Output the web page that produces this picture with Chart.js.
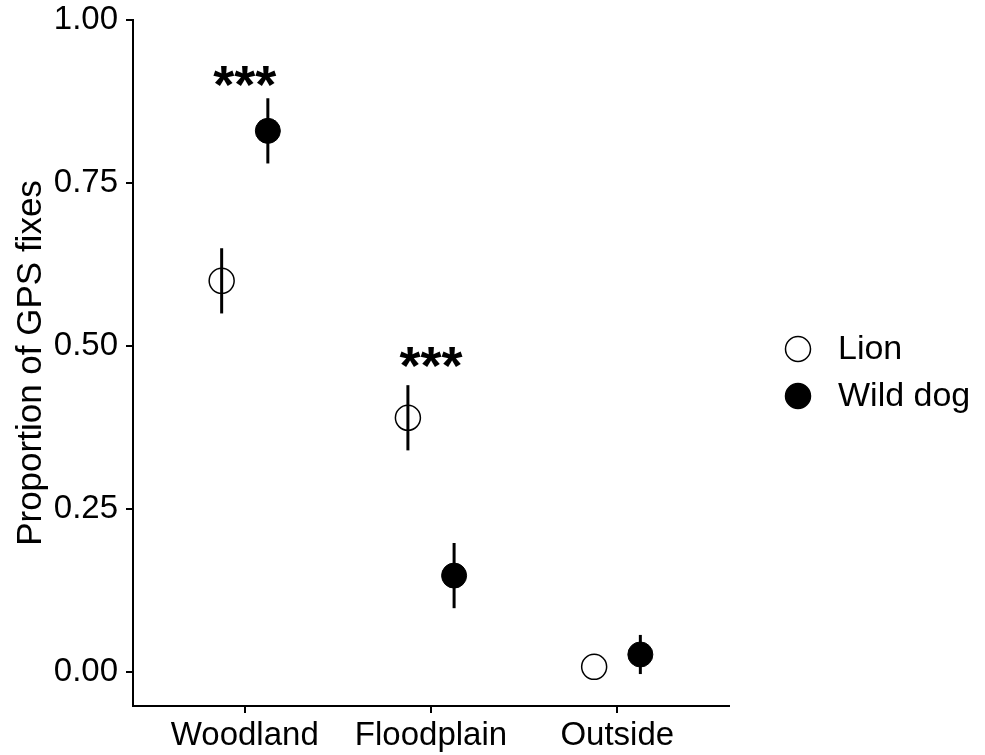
<!DOCTYPE html>
<html>
<head>
<meta charset="utf-8">
<script src="https://cdn.jsdelivr.net/npm/chart.js@4.4.1/dist/chart.umd.min.js"></script>
<style>
  html, body { margin: 0; padding: 0; background: #fff; }
  #wrap { width: 985px; height: 755px; }
</style>
</head>
<body>
<div id="wrap"><canvas id="chartGps"></canvas></div>
<script>
// data
const categorias = ["Woodland", "Floodplain", "Outside"];
const lionMedia = [0.60, 0.39, 0.008];
const lionError = [0.05, 0.05, 0];
const perroMedia = [0.83, 0.148, 0.027];
const perroError = [0.05, 0.05, 0.03];
const ticksY = [0, 0.25, 0.5, 0.75, 1];
const signif = ["***", "***", ""];
const signifY = [0.913, 0.483, null];

const DODGE = 0.124;
const FUENTE = "'Liberation Sans', Arial, sans-serif";

function puntos(medias, lado) {
  return medias.map((m, i) => ({ x: i + 1 + lado * DODGE, y: m }));
}

const barrasError = {
  id: "barrasError",
  beforeDatasetsDraw(chart) {
    const { ctx, scales: { x, y } } = chart;
    const series = [[lionMedia, lionError, -1], [perroMedia, perroError, 1]];
    ctx.save();
    ctx.strokeStyle = "#000";
    ctx.lineWidth = 3;
    series.forEach(([med, err, lado]) => {
      med.forEach((m, i) => {
        if (!err[i]) return;
        const px = x.getPixelForValue(i + 1 + lado * DODGE);
        ctx.beginPath();
        ctx.moveTo(px, y.getPixelForValue(m - err[i]));
        ctx.lineTo(px, y.getPixelForValue(m + err[i]));
        ctx.stroke();
      });
    });
    ctx.restore();
  }
};

const asteriscos = {
  id: "asteriscos",
  afterDatasetsDraw(chart) {
    const { ctx, scales: { x, y } } = chart;
    ctx.save();
    ctx.fillStyle = "#000";
    ctx.font = "bold 54px " + FUENTE;
    ctx.textAlign = "center";
    ctx.textBaseline = "alphabetic";
    signif.forEach((s, i) => {
      if (!s) return;
      const m = ctx.measureText(s);
      const cy = y.getPixelForValue(signifY[i]);
      const base = cy + (m.actualBoundingBoxAscent - m.actualBoundingBoxDescent) / 2;
      ctx.fillText(s, x.getPixelForValue(i + 1), base);
    });
    ctx.restore();
  }
};

const leyenda = {
  id: "leyenda",
  afterDraw(chart) {
    const { ctx, chartArea } = chart;
    const items = [
      { label: "Lion", fill: null },
      { label: "Wild dog", fill: "#000" }
    ];
    ctx.save();
    ctx.font = "34px " + FUENTE;
    ctx.textBaseline = "middle";
    ctx.textAlign = "left";
    items.forEach((it, k) => {
      const cx = chartArea.right + 69;
      const cy = 349 + k * 47;
      ctx.beginPath();
      ctx.arc(cx, cy, 12.5, 0, Math.PI * 2);
      if (it.fill) { ctx.fillStyle = it.fill; ctx.fill(); }
      ctx.lineWidth = 1.5;
      ctx.strokeStyle = "#000";
      ctx.stroke();
      ctx.fillStyle = "#000";
      ctx.fillText(it.label, cx + 40, cy + 1);
    });
    ctx.restore();
  }
};

const ctx = document.getElementById("chartGps").getContext("2d");
new Chart(ctx, {
  type: "scatter",
  data: {
    datasets: [
      {
        label: "Lion",
        data: puntos(lionMedia, -1),
        pointRadius: 12.5,
        pointBackgroundColor: "rgba(0,0,0,0)",
        pointBorderColor: "#000",
        pointBorderWidth: 1.5
      },
      {
        label: "Wild dog",
        data: puntos(perroMedia, 1),
        pointRadius: 12.5,
        pointBackgroundColor: "#000",
        pointBorderColor: "#000",
        pointBorderWidth: 1
      }
    ]
  },
  options: {
    responsive: true,
    maintainAspectRatio: false,
    animation: false,
    layout: { padding: { left: 0, top: 20, right: 256, bottom: 0 } },
    plugins: {
      legend: { display: false },
      tooltip: { enabled: false }
    },
    scales: {
      x: {
        type: "linear",
        min: 0.4,
        max: 3.6,
        afterBuildTicks: s => { s.ticks = categorias.map((c, i) => ({ value: i + 1 })); },
        afterFit: s => { s.height = 49; s.paddingLeft = 0; s.paddingRight = 0; },
        ticks: {
          callback: v => categorias[v - 1],
          color: "#000",
          font: { size: 33, family: FUENTE },
          padding: 3,
          maxRotation: 0
        },
        grid: { drawOnChartArea: false, drawTicks: true, tickLength: 7, color: "#000", lineWidth: 2 },
        border: { display: true, color: "#000", width: 2 }
      },
      y: {
        min: -0.052,
        max: 1,
        afterBuildTicks: s => { s.ticks = ticksY.map(v => ({ value: v })); },
        afterFit: s => { s.width = 133; s.paddingTop = 0; s.paddingBottom = 0; },
        ticks: {
          callback: v => v.toFixed(2),
          color: "#000",
          font: { size: 33, family: FUENTE },
          padding: 8
        },
        grid: { drawOnChartArea: false, drawTicks: true, tickLength: 7, color: "#000", lineWidth: 2 },
        border: { display: true, color: "#000", width: 2 },
        title: {
          display: true,
          text: "Proportion of GPS fixes",
          color: "#000",
          font: { size: 35, family: FUENTE },
          padding: { top: 10, bottom: 0 }
        }
      }
    }
  },
  plugins: [barrasError, asteriscos, leyenda]
});
</script>
</body>
</html>
